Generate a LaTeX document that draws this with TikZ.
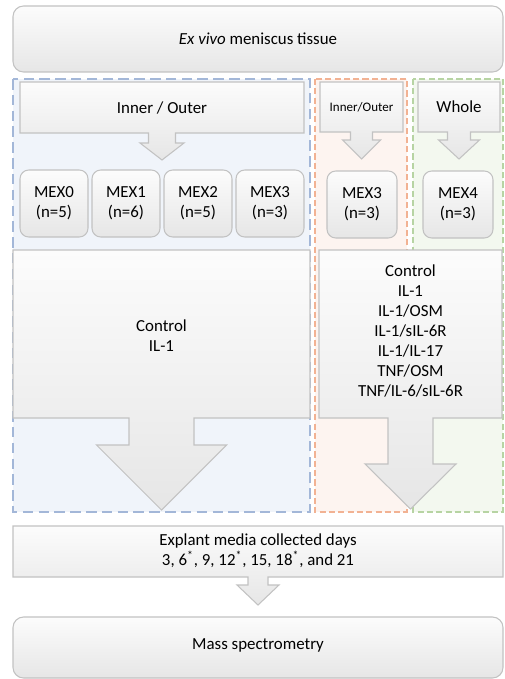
\documentclass[tikz,border=0pt]{standalone}
\usepackage{fontspec}
\setmainfont{Carlito}
\usepackage{tikz}
\usetikzlibrary{calc}
\definecolor{boxline}{HTML}{C2C2C2}
\definecolor{boxtop}{HTML}{FCFCFC}
\definecolor{boxbot}{HTML}{E6E6E6}
\definecolor{blueline}{HTML}{A3B7D8}
\definecolor{bluefill}{HTML}{F0F4FA}
\definecolor{orangeline}{HTML}{F2B293}
\definecolor{orangefill}{HTML}{FDF4F0}
\definecolor{greenline}{HTML}{B7D4A3}
\definecolor{greenfill}{HTML}{F3F8EF}
\tikzset{every picture/.append style={x=0.02cm, y=-0.02cm}}
\tikzset{region/.style n args={2}{draw=#1, fill=#2, line width=0.6pt, dash pattern=on 3.5pt off 1.8pt}}
\tikzset{box/.style={draw=boxline, line width=0.6pt, top color=boxtop, bottom color=boxbot}}
\tikzset{rbox/.style={box, rounded corners=6pt}}
\tikzset{mexbox/.style={box, rounded corners=5pt}}
\tikzset{lbl/.style={font=\fontsize{9.6}{11.4}\selectfont, align=center, inner sep=0pt}}
\tikzset{smalllbl/.style={lbl, font=\fontsize{7.4}{9}\selectfont}}
% box with a block arrow under it: left, right, top, bottom, shaft, head, head y, tip y
\newcommand{\dncallout}[8]{%
  \pgfmathsetmacro\cmid{(#1+#2)/2}
  \path[box] (#1,#3) -- (#2,#3) -- (#2,#4) -- (\cmid+#5,#4) -- (\cmid+#5,#7) -- (\cmid+#6,#7)
    -- (\cmid,#8) -- (\cmid-#6,#7) -- (\cmid-#5,#7) -- (\cmid-#5,#4) -- (#1,#4) -- cycle;}

\begin{document}
\begin{tikzpicture}
\useasboundingbox (0,0) rectangle (504,679);
\path[rbox] (13,6) rectangle (503,72);
\node (tissue) at (258,39)[lbl]{\textit{Ex vivo} meniscus tissue};

\path[region={blueline}{bluefill}, line width=0.8pt, dash pattern=on 6pt off 3pt] (13,79) rectangle (310,512);
\path[region={orangeline}{orangefill}] (315,79) rectangle (407,512);
\path[region={greenline}{greenfill}] (413,79) rectangle (503,512);

\dncallout{20}{304}{82}{133}{13.5}{22}{143}{160}
\dncallout{320}{403}{82}{132}{11}{19}{140}{159}
\dncallout{418}{500}{82}{132}{11.5}{20.5}{140}{159}
\node (io) at (162,108)[lbl]{Inner / Outer};
\node (iosmall) at (361.5,107)[smalllbl]{Inner/Outer};
\node (whole) at (459,107)[lbl]{Whole};

\path[mexbox] (20,170) rectangle (88,237);
\path[mexbox] (92,170) rectangle (160,237);
\path[mexbox] (164,170) rectangle (232,237);
\path[mexbox] (236,170) rectangle (304,237);
\path[mexbox] (327,171) rectangle (397,238);
\path[mexbox] (423,171) rectangle (493,238);
\node (mex0) at (54,203.5)[lbl]{MEX0\\(n=5)};
\node (mex1) at (126,203.5)[lbl]{MEX1\\(n=6)};
\node (mex2) at (198,203.5)[lbl]{MEX2\\(n=5)};
\node (mex3) at (270,203.5)[lbl]{MEX3\\(n=3)};
\node (mex3b) at (362,204.5)[lbl]{MEX3\\(n=3)};
\node (mex4) at (458,204.5)[lbl]{MEX4\\(n=3)};

\dncallout{13}{310}{250}{418}{32.5}{65}{445}{510}
\dncallout{319}{502}{250}{418}{22.5}{45.5}{464}{509}
\node (treatA) at (161.5,336)[lbl]{Control\\IL-1};
\node (treatB) at (410.5,331)[lbl]{Control\\IL-1\\IL-1/OSM\\IL-1/sIL-6R\\IL-1/IL-17\\TNF/OSM\\TNF/IL-6/sIL-6R};

\dncallout{13}{503}{526}{577}{10}{21}{585}{605}
\node (media) at (258,551)[lbl]{Explant media collected days\\3, 6\textsuperscript{*}, 9, 12\textsuperscript{*}, 15, 18\textsuperscript{*}, and 21};

\path[rbox] (13,617) rectangle (503,678);
\node (ms) at (258,645)[lbl]{Mass spectrometry};
\end{tikzpicture}
\end{document}
